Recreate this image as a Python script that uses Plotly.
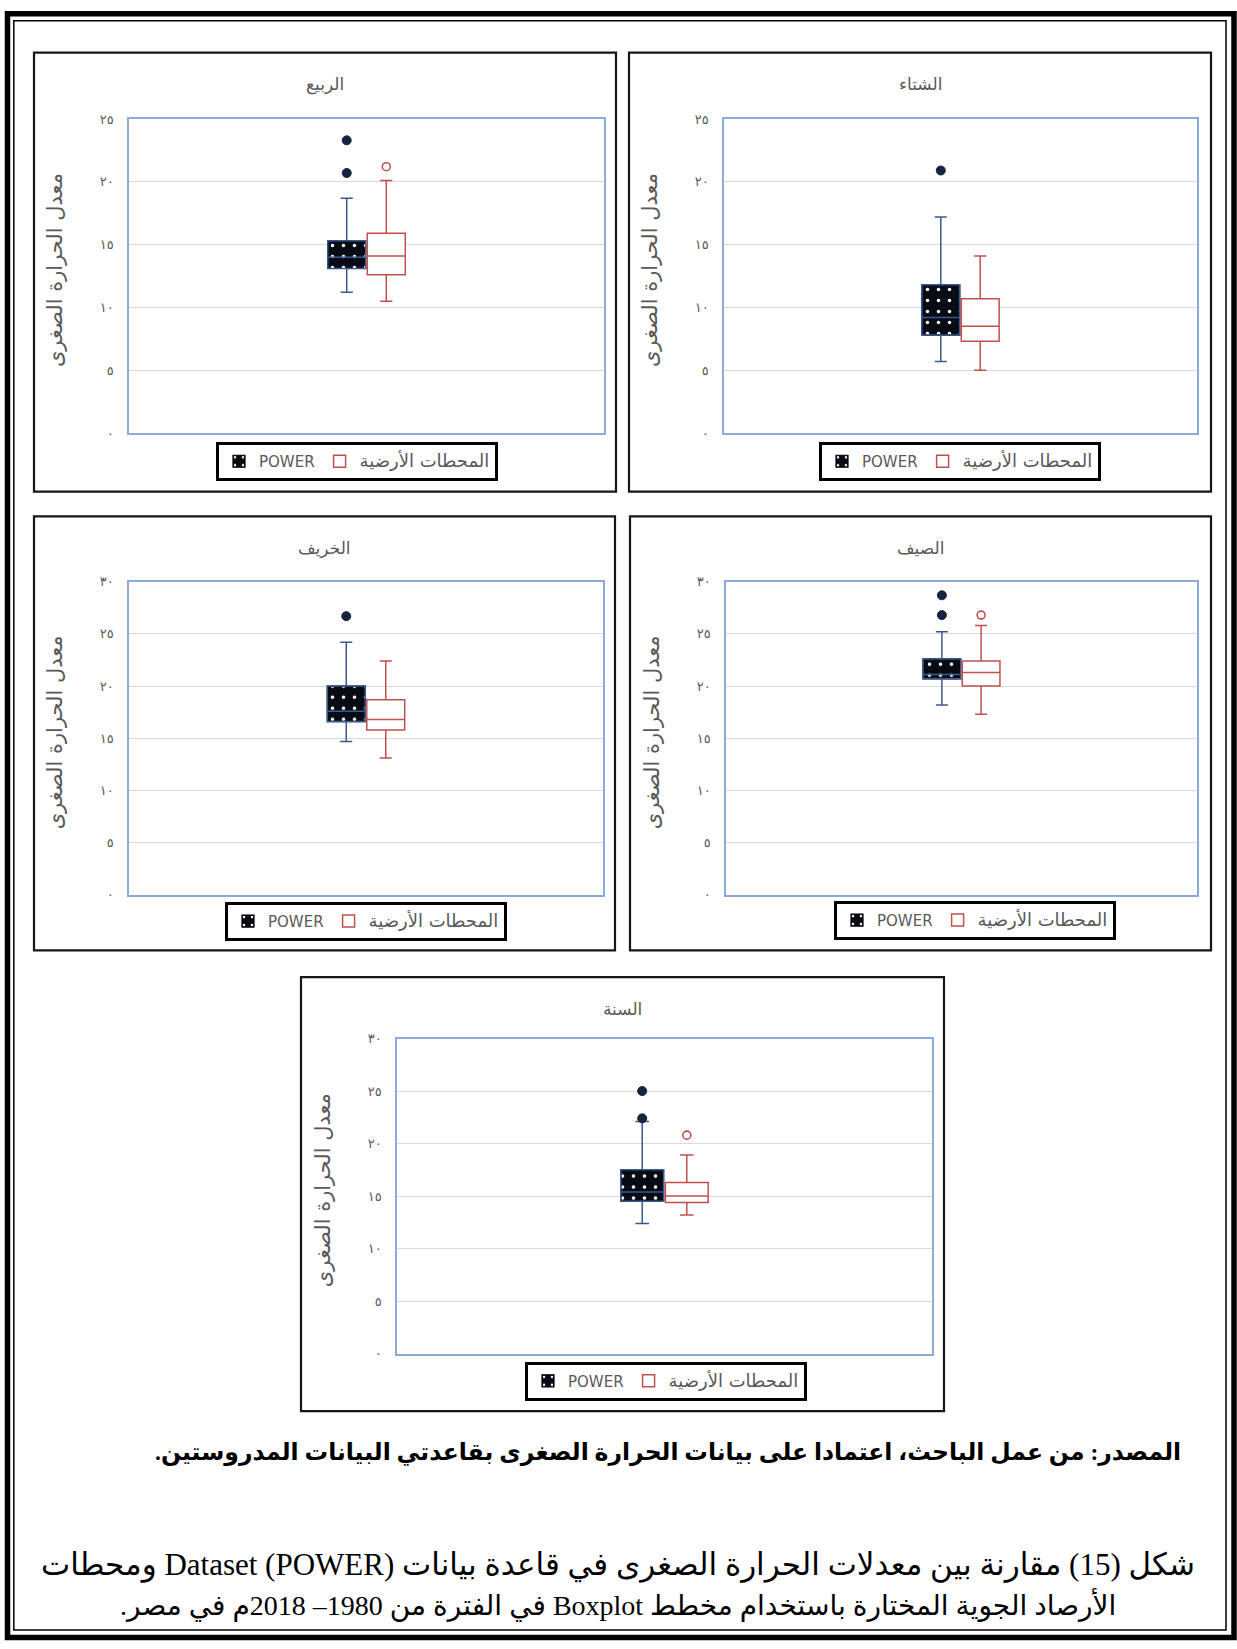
import plotly.graph_objects as go

FIG_W, FIG_H = 1237, 1649

# ---------------- data ----------------
SEASONS = ["الربيع", "الشتاء", "الخريف", "الصيف", "السنة"]
SERIES = ["POWER", "المحطات الأرضية"]
Y_TITLE = "معدل الحرارة الصغرى"

POWER_LOWER = [11.2, 5.7, 14.7, 18.2, 12.4]
POWER_Q1 = [13.1, 7.8, 16.6, 20.7, 14.5]
POWER_MEDIAN = [14.0, 9.2, 17.6, 21.1, 15.4]
POWER_Q3 = [15.3, 11.8, 20.0, 22.6, 17.5]
POWER_UPPER = [18.7, 17.2, 24.2, 25.2, 22.1]
POWER_OUTLIERS = [[23.3, 20.7], [20.9], [26.7], [28.7, 26.8], [25.0, 22.4]]

GROUND_LOWER = [10.5, 5.0, 13.1, 17.3, 13.2]
GROUND_Q1 = [12.6, 7.3, 15.8, 20.0, 14.4]
GROUND_MEDIAN = [14.1, 8.5, 16.8, 21.3, 15.0]
GROUND_Q3 = [15.9, 10.7, 18.7, 22.4, 16.3]
GROUND_UPPER = [20.1, 14.1, 22.4, 25.8, 18.9]
GROUND_OUTLIERS = [[21.2], [], [], [26.8], [20.8]]

Y_MAX = [25, 25, 30, 30, 30]
TICK_VALUES = [0, 5, 10, 15, 20, 25, 30]
TICK_LABELS = ["٠", "٥", "١٠", "١٥", "٢٠", "٢٥", "٣٠"]

SOURCE_NOTE = "المصدر: من عمل الباحث، اعتمادا على بيانات الحرارة الصغرى بقاعدتي البيانات المدروستين."
CAPTION_LINES = [
    "شكل (15) مقارنة بين معدلات الحرارة الصغرى في قاعدة بيانات Dataset (POWER) ومحطات",
    "الأرصاد الجوية المختارة باستخدام مخطط Boxplot في الفترة من 1980– 2018م في مصر.",
]

# ---------------- layout (pixels) ----------------
PANEL_RECTS = [(34, 46, 616, 489), (629, 46, 1211, 489), (34, 514, 615, 952),
               (630, 514, 1211, 952), (301, 979, 944, 1417)]
PLOT_RECTS = [(129, 113, 604, 430), (724, 113, 1197, 430), (129, 580, 603, 896),
              (726, 580, 1197, 896), (397, 1041, 932, 1359)]
LEGEND_POS = [(357, 439), (960, 439), (366, 903), (975, 902), (666, 1367)]

# ---------------- styles ----------------
TEXT_GREY = "#595959"
GRID = "#D9D9D9"
PLOT_EDGE = "#8EAADB"
POWER_LINE = "#3A5A8E"
POWER_FILL = "#080B14"
POWER_DOT = "#17233F"
GROUND_LINE = "#C0504D"
BOX_WIDTH = 0.96
FONT = "DejaVu Sans"
CAPTION_FONT = "Liberation Serif, DejaVu Sans"
RLE, PDF = "\u202b", "\u202c"


def fx(x):
    return x / FIG_W


def fy(y):
    return 1 - y / FIG_H


def legend_label(name):
    # Arabic legend entry is set a little larger than the Latin one
    if name.isascii():
        return name
    return '<span style="font-size:18px">' + name + "</span>"


fig = go.Figure()
layout_parts = {}
annotations = []
shapes = []

for i, season in enumerate(SEASONS):
    n = "" if i == 0 else str(i + 1)
    xa, ya, leg = "x" + n, "y" + n, "legend" + n
    left, top, right, bottom = PLOT_RECTS[i]

    # dotted fill of the POWER inter-quartile box
    fig.add_trace(go.Bar(
        x=[SERIES[0]], y=[POWER_Q3[i] - POWER_Q1[i]], base=[POWER_Q1[i]],
        width=BOX_WIDTH, name=legend_label(SERIES[0]), legend=leg, showlegend=True,
        marker=dict(color=POWER_FILL, line=dict(color="#000000", width=1.2),
                    pattern=dict(shape=".", fgcolor="white", bgcolor=POWER_FILL,
                                 size=11, solidity=0.08, fillmode="replace")),
        xaxis=xa, yaxis=ya, hoverinfo="skip"))

    fig.add_trace(go.Box(
        x=[SERIES[0]], q1=[POWER_Q1[i]], median=[POWER_MEDIAN[i]], q3=[POWER_Q3[i]],
        lowerfence=[POWER_LOWER[i]], upperfence=[POWER_UPPER[i]],
        orientation="v", width=BOX_WIDTH, whiskerwidth=0.32, boxpoints=False,
        fillcolor="rgba(0,0,0,0)", line=dict(color=POWER_LINE, width=1.5),
        name=SERIES[0], showlegend=False, xaxis=xa, yaxis=ya))

    fig.add_trace(go.Box(
        x=[SERIES[1]], q1=[GROUND_Q1[i]], median=[GROUND_MEDIAN[i]], q3=[GROUND_Q3[i]],
        lowerfence=[GROUND_LOWER[i]], upperfence=[GROUND_UPPER[i]],
        orientation="v", width=BOX_WIDTH, whiskerwidth=0.32, boxpoints=False,
        fillcolor="white", line=dict(color=GROUND_LINE, width=1.5),
        name=legend_label(SERIES[1]), legend=leg, showlegend=True, xaxis=xa, yaxis=ya))

    if POWER_OUTLIERS[i]:
        fig.add_trace(go.Scatter(
            x=[SERIES[0]] * len(POWER_OUTLIERS[i]), y=POWER_OUTLIERS[i], mode="markers",
            marker=dict(symbol="circle", size=9, color=POWER_DOT,
                        line=dict(color=POWER_DOT, width=1)),
            showlegend=False, xaxis=xa, yaxis=ya, hoverinfo="y"))
    if GROUND_OUTLIERS[i]:
        fig.add_trace(go.Scatter(
            x=[SERIES[1]] * len(GROUND_OUTLIERS[i]), y=GROUND_OUTLIERS[i], mode="markers",
            marker=dict(symbol="circle-open", size=8, color=GROUND_LINE,
                        line=dict(color=GROUND_LINE, width=1.6)),
            showlegend=False, xaxis=xa, yaxis=ya, hoverinfo="y"))

    ticks = [(v, t) for v, t in zip(TICK_VALUES, TICK_LABELS) if v <= Y_MAX[i]]
    layout_parts["xaxis" + n] = dict(
        domain=[fx(left), fx(right)], anchor=ya, type="category",
        categoryorder="array", categoryarray=SERIES, range=[-5.5, 6.5],
        showticklabels=False, ticks="", showgrid=False, zeroline=False,
        showline=True, linecolor=PLOT_EDGE, linewidth=1.5, mirror=True, fixedrange=True)
    layout_parts["yaxis" + n] = dict(
        domain=[fy(bottom), fy(top)], anchor=xa, range=[0, Y_MAX[i]],
        tickmode="array", tickvals=[v for v, _ in ticks], ticktext=[t for _, t in ticks],
        ticks="", ticklabelstandoff=11, tickfont=dict(family=FONT, size=13, color=TEXT_GREY),
        showgrid=True, gridcolor=GRID, gridwidth=1, zeroline=False,
        showline=True, linecolor=PLOT_EDGE, linewidth=1.5, mirror=True, fixedrange=True)

    lx, ly = LEGEND_POS[i]
    layout_parts[leg] = dict(
        orientation="h", x=fx(lx), xanchor="center", y=fy(ly), yanchor="top",
        bgcolor="white", bordercolor="#000000", borderwidth=3,
        font=dict(family=FONT, size=15, color=TEXT_GREY),
        traceorder="normal", itemclick=False, itemdoubleclick=False)

    pl, pt, pr, pb = PANEL_RECTS[i]
    shapes.append(dict(type="rect", xref="paper", yref="paper",
                       x0=fx(pl), x1=fx(pr), y0=fy(pb), y1=fy(pt),
                       line=dict(color="#161616", width=2.2)))
    annotations.append(dict(text=season, x=fx((pl + pr) / 2), y=fy(pt + 32),
                            xref="paper", yref="paper", showarrow=False,
                            xanchor="center", yanchor="middle",
                            font=dict(family=FONT, size=17, color=TEXT_GREY)))
    annotations.append(dict(text=Y_TITLE, x=fx(left - 74), y=fy((top + bottom) / 2 - 6),
                            xref="paper", yref="paper", showarrow=False, textangle=-90,
                            xanchor="center", yanchor="middle",
                            font=dict(family=FONT, size=21, color=TEXT_GREY)))

# outer double frame
shapes.append(dict(type="rect", xref="paper", yref="paper",
                   x0=fx(7.5), x1=fx(1234), y0=fy(1645.5), y1=fy(6.8),
                   line=dict(color="#000000", width=5.5)))
shapes.append(dict(type="rect", xref="paper", yref="paper",
                   x0=fx(13.8), x1=fx(1226), y0=fy(1638), y1=fy(13.8),
                   line=dict(color="#000000", width=1.5)))

# source note and figure caption
annotations.append(dict(text=RLE + SOURCE_NOTE + PDF, x=fx(1183), y=fy(1459),
                        xref="paper", yref="paper", showarrow=False,
                        xanchor="right", yanchor="middle",
                        font=dict(family=CAPTION_FONT, size=23.5, color="#000000", weight="bold")))
CAPTION_SIZES = [31, 28]
for k, line in enumerate(CAPTION_LINES):
    annotations.append(dict(text=RLE + line + PDF, x=fx(618), y=fy(1572 + 40 * k),
                            xref="paper", yref="paper", showarrow=False,
                            xanchor="center", yanchor="middle",
                            font=dict(family=CAPTION_FONT, size=CAPTION_SIZES[k], color="#000000")))

fig.update_layout(
    width=FIG_W, height=FIG_H, margin=dict(l=0, r=0, t=0, b=0),
    paper_bgcolor="white", plot_bgcolor="white",
    font=dict(family=FONT, color=TEXT_GREY),
    barmode="overlay", boxmode="overlay",
    shapes=shapes, annotations=annotations,
    **layout_parts)

fig.write_html("out.html")
